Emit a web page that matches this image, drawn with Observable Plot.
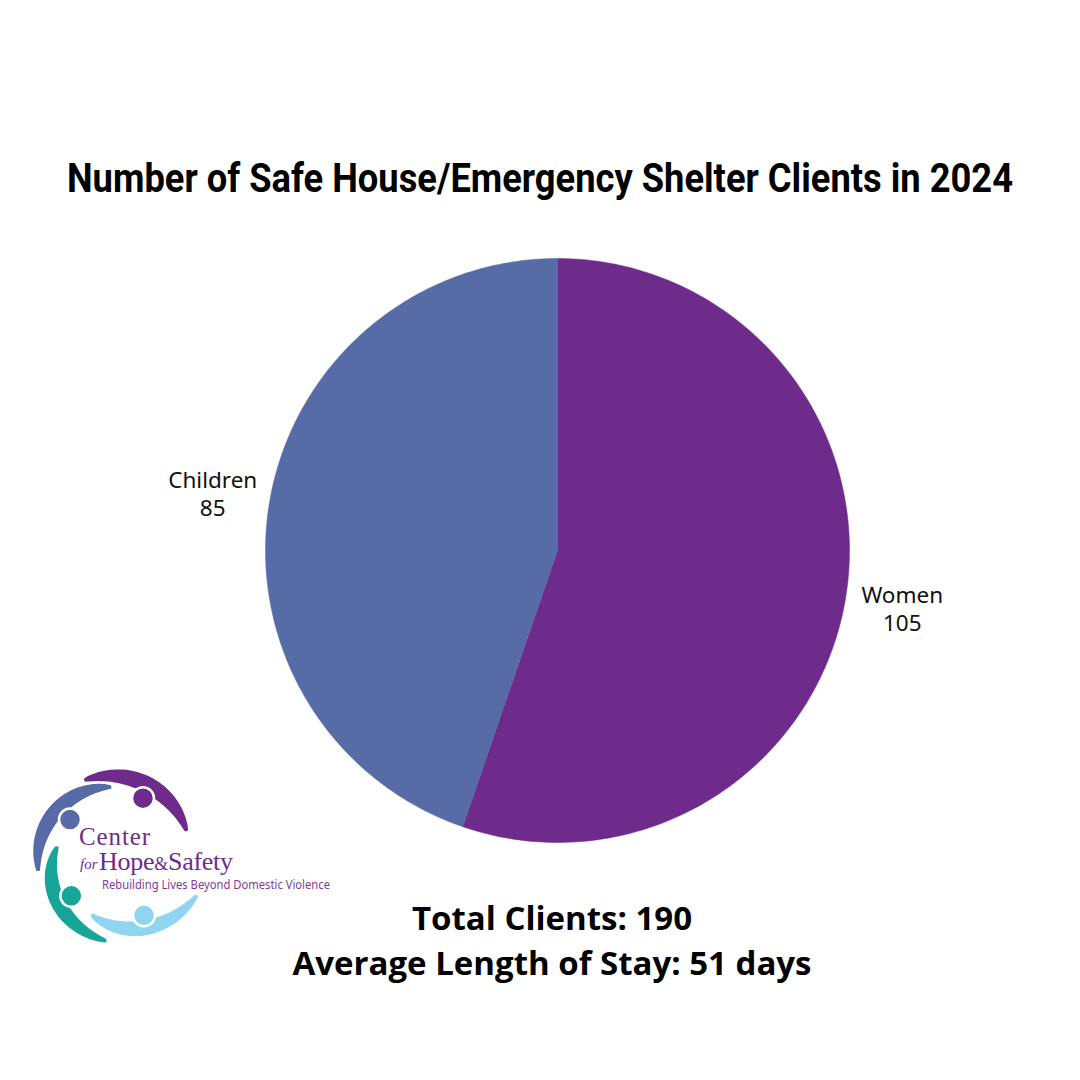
<!DOCTYPE html>
<html>
<head>
<meta charset="utf-8">
<script src="https://cdn.jsdelivr.net/npm/d3@7"></script>
<script src="https://cdn.jsdelivr.net/npm/@observablehq/plot@0.6"></script>
<style>
  html, body { margin: 0; padding: 0; background: #ffffff; }
  #page { position: relative; width: 1080px; height: 1080px; overflow: hidden; background: #fff; }
  #chart { position: absolute; left: 0; top: 0; }
  .footer { position: absolute; left: 12px; width: 1080px; text-align: center;
    font-family: "Open Sans", Inter, sans-serif; font-weight: 700; font-size: 33px; color: #000; white-space: nowrap; }
  #overlay { position: absolute; left: 0; top: 0; }
</style>
</head>
<body>
<div id="page">
  <div id="chart"></div>
  <div class="footer" style="top:894px; line-height:48px;">Total Clients: 190</div>
  <div class="footer" style="top:939px; line-height:48px;">Average Length of Stay: 51 days</div>
  <svg id="overlay" width="1080" height="1080" viewBox="0 0 1080 1080"></svg>
</div>
<script>
// ---- data ----
const categories = ["Women", "Children"];
const values = [105, 85];
const colors = ["#6E2B8B", "#576BA6"];
const titleText = "Number of Safe House/Emergency Shelter Clients in 2024";

// ---- build pie geometry from data ----
const pie = d3.pie().sort(null).value(d => d.value)(categories.map((c, i) => ({name: c, value: values[i]})));
const pts = [];
for (const s of pie) {
  const n = 200;
  pts.push({name: s.data.name, x: 0, y: 0});
  for (let k = 0; k <= n; k++) {
    const a = s.startAngle + (s.endAngle - s.startAngle) * k / n;
    pts.push({name: s.data.name, x: Math.sin(a), y: Math.cos(a)});
  }
  pts.push({name: s.data.name, x: 0, y: 0});
}
const labels = pie.map(s => {
  const a = (s.startAngle + s.endAngle) / 2;
  return {name: s.data.name, value: s.data.value, x: 1.197 * Math.sin(a), y: 1.197 * Math.cos(a)};
});

const chart = Plot.plot({
  width: 1080,
  height: 1080,
  margin: 0,
  x: {domain: [-1, 1], range: [265, 849], axis: null},
  y: {domain: [-1, 1], range: [842, 258], axis: null},
  color: {domain: categories, range: colors},
  style: {background: "transparent"},
  marks: [
    Plot.line(pts, {x: "x", y: "y", z: "name", fill: "name", stroke: "name", strokeWidth: 0.5, curve: "linear"}),
    Plot.text(labels, {x: "x", y: "y", text: d => `${d.name}\n${d.value}`, fill: "#111",
      fontSize: 22.5, lineHeight: 1.25, fontFamily: "'Noto Sans', 'Open Sans', sans-serif", textAnchor: "middle"})
  ]
});
document.getElementById("chart").appendChild(chart);

const ov = d3.select("#overlay");
// ---- title ----
ov.append("text").attr("transform", "translate(67,192) scale(1,1.18)").attr("fill", "#000")
  .attr("font-family", "Roboto, 'DejaVu Sans Condensed', sans-serif").attr("font-weight", 700).attr("font-size", 34)
  .attr("textLength", 946).attr("lengthAdjust", "spacingAndGlyphs").text(titleText);

// ---- decorative logo ----
const cx = 113, cy = 857;
const deg = Math.PI / 180;
const g = ov.append("g").attr("transform", `translate(${cx},${cy})`);
const arms = [
  {a0: -20, r0: 82, a1: 70, r1: 78, w: 13, c: "#6E2B8B", ha: 27, hr: 66},
  {a0: -2, r0: 70, a1: -100, r1: 76, w: 12, c: "#576BA6", ha: -49, hr: 57},
  {a0: -80, r0: 57, a1: -175, r1: 84, w: 12, c: "#17A59A", ha: -133, hr: 57},
  {a0: -160, r0: 62, a1: -245, r1: 92, w: 12, c: "#8FD5F1", ha: -208, hr: 66}
];
arms.forEach(a => {
  const n = 60, outer = [], inner = [];
  for (let k = 0; k <= n; k++) {
    const t = k / n;
    const ang = (a.a0 + (a.a1 - a.a0) * t) * deg;
    const r = a.r0 + (a.r1 - a.r0) * t;
    const w = 2 + a.w * Math.pow(Math.sin(Math.PI * t), 0.8);
    outer.push([Math.sin(ang) * (r + w / 2), -Math.cos(ang) * (r + w / 2)]);
    inner.push([Math.sin(ang) * (r - w / 2), -Math.cos(ang) * (r - w / 2)]);
  }
  const poly = outer.concat(inner.reverse());
  g.append("path").attr("d", "M" + poly.map(p => p.join(",")).join("L") + "Z").attr("fill", a.c)
    .attr("stroke", a.c).attr("stroke-width", 1.5).attr("stroke-linejoin", "round");
  g.append("circle").attr("cx", Math.sin(a.ha * deg) * a.hr).attr("cy", -Math.cos(a.ha * deg) * a.hr)
    .attr("r", 11).attr("fill", a.c).attr("stroke", "#fff").attr("stroke-width", 2.5);
});
ov.append("text").attr("x", 79).attr("y", 845).attr("fill", "#6E2B8B")
  .attr("font-family", "'Liberation Serif', serif").attr("font-size", 25).attr("textLength", 71).text("Center");
ov.append("text").attr("x", 80).attr("y", 869).attr("fill", "#6E2B8B")
  .attr("font-family", "'Liberation Serif', serif").attr("font-style", "italic").attr("font-size", 15).text("for");
const hs = ov.append("text").attr("x", 99).attr("y", 870).attr("fill", "#6E2B8B")
  .attr("font-family", "'Liberation Serif', serif").attr("font-size", 26).attr("textLength", 134);
hs.append("tspan").text("Hope");
hs.append("tspan").attr("font-size", 18).text("&");
hs.append("tspan").text("Safety");
ov.append("text").attr("x", 102).attr("y", 889).attr("fill", "#7E3C98")
  .attr("font-family", "'Noto Sans', sans-serif").attr("font-size", 12.5).attr("textLength", 228)
  .attr("lengthAdjust", "spacingAndGlyphs").text("Rebuilding Lives Beyond Domestic Violence");
</script>
</body>
</html>
